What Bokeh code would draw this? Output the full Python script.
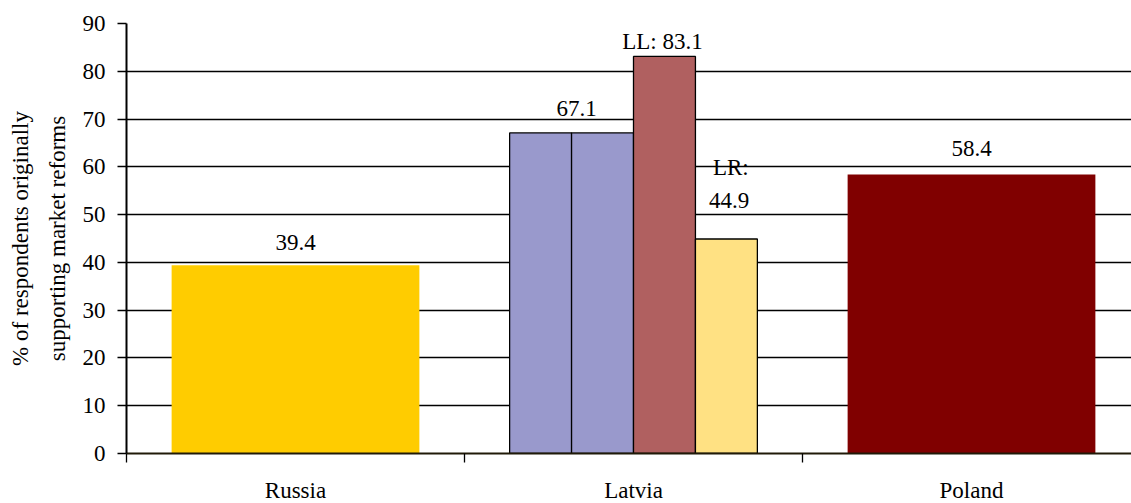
from bokeh.plotting import figure
from bokeh.models import Range1d, FixedTicker
from bokeh.core.properties import value
from bokeh.embed import file_html
from bokeh.resources import INLINE

# ---- data ----
countries = ["Russia", "Latvia", "Poland"]
russia_value = 39.4
poland_value = 58.4
latvia_series = ["Latvia 1", "Latvia 2", "LL", "LR"]
latvia_values = [67.1, 67.1, 83.1, 44.9]
latvia_colors = ["#9999CC", "#9999CC", "#B06060", "#FFE183"]
y_ticks = [0, 10, 20, 30, 40, 50, 60, 70, 80, 90]

FONT = "Liberation Serif"
FS = "23px"

p = figure(frame_width=1005, frame_height=430, output_backend="svg",
           toolbar_location=None, x_range=Range1d(0, 1005 / 338),
           y_range=Range1d(0, 90), min_border_left=126, min_border_top=23,
           min_border_bottom=50, min_border_right=0)
p.outline_line_color = None
p.background_fill_color = "white"
p.border_fill_color = "white"

# bars
cat_w = 0.733
sub_w = cat_w / 4
p.vbar(x=[0.5], top=[russia_value], width=cat_w, fill_color="#FFCC00", line_color=None)
p.vbar(x=[2.5], top=[poland_value], width=cat_w, fill_color="#800000", line_color=None)
lat_x = [1.5 + (i - 1.5) * sub_w for i in range(len(latvia_values))]
p.vbar(x=lat_x, top=latvia_values, width=sub_w, fill_color=latvia_colors,
       line_color="black", line_width=1.3)

# value labels
def lab(x, y, t, dy):
    p.text(x=[x], y=[y], text=[t], text_font=value(FONT), text_font_size=FS,
           text_align="center", text_baseline="alphabetic", y_offset=dy,
           text_color="black")

lab(0.5, russia_value, f"{russia_value}", -23)
lab(2.5, poland_value, f"{poland_value}", -26)
lab((lat_x[0] + lat_x[1]) / 2 + 0.015, latvia_values[0], f"{latvia_values[0]}", -24)
lab(lat_x[2] - 0.006, latvia_values[2], f"LL: {latvia_values[2]}", -15)
lab(lat_x[3] + 0.013, latvia_values[3], "LR:", -71)
lab(lat_x[3] + 0.008, latvia_values[3], f"{latvia_values[3]}", -38)

# axes
xa = p.xaxis[0]
xa.ticker = FixedTicker(ticks=[0.5, 1.5, 2.5], minor_ticks=[0, 1, 2, 3])
xa.major_label_overrides = {0.5: countries[0], 1.5: countries[1], 2.5: countries[2]}
xa.major_tick_out = 0
xa.major_tick_in = 0
xa.minor_tick_out = 9
xa.minor_tick_in = 0
xa.minor_tick_line_color = "black"
xa.minor_tick_line_width = 1.3
xa.axis_line_color = "#201a08"
xa.axis_line_width = 2
xa.major_label_standoff = 15
xa.major_label_text_font = FONT
xa.major_label_text_font_size = FS
xa.major_label_text_color = "black"

ya = p.yaxis[0]
ya.ticker = FixedTicker(ticks=y_ticks)
ya.minor_tick_line_color = None
ya.major_tick_out = 9
ya.major_tick_in = 0
ya.major_tick_line_color = "black"
ya.major_tick_line_width = 1.3
ya.axis_line_color = "black"
ya.axis_line_width = 2
ya.major_label_standoff = 12
ya.major_label_text_font = FONT
ya.major_label_text_font_size = FS
ya.major_label_text_color = "black"
ya.axis_label = "% of respondents originally\nsupporting market reforms"
ya.axis_label_text_font = FONT
ya.axis_label_text_font_size = FS
ya.axis_label_text_font_style = "normal"
ya.axis_label_text_color = "black"
ya.axis_label_text_line_height = 1.45
ya.axis_label_standoff = 10

p.xgrid.grid_line_color = None
p.ygrid.ticker = FixedTicker(ticks=y_ticks)
p.ygrid.grid_line_color = "black"
p.ygrid.grid_line_width = 1.3
p.ygrid.level = "underlay"

open("out.html", "w").write(file_html(p, INLINE))
